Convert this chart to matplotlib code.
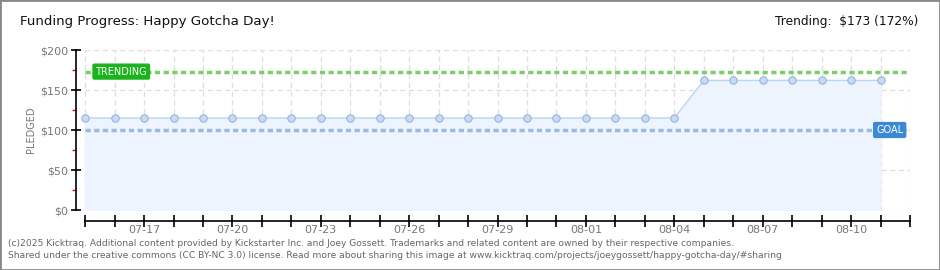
import numpy as np
import matplotlib.pyplot as plt
from matplotlib.patches import Rectangle
from matplotlib.ticker import MultipleLocator, FixedLocator

# daily pledged totals, 07-15 .. 08-11
dates = ['07-15', '07-16', '07-17', '07-18', '07-19', '07-20', '07-21', '07-22', '07-23', '07-24',
         '07-25', '07-26', '07-27', '07-28', '07-29', '07-30', '07-31', '08-01', '08-02', '08-03',
         '08-04', '08-05', '08-06', '08-07', '08-08', '08-09', '08-10', '08-11']
pledged = [115, 115, 115, 115, 115, 115, 115, 115, 115, 115,
           115, 115, 115, 115, 115, 115, 115, 115, 115, 115,
           115, 162, 162, 162, 162, 162, 162, 162]
tick_dates = dates + ['08-12']
goal = 100
trending = 173

W, H = 940, 270
fig = plt.figure(figsize=(W / 100, H / 100), dpi=100)
fig.patches.append(Rectangle((0, 0), 1, 1, transform=fig.transFigure, fill=False,
                             edgecolor='#888888', linewidth=2))

ax = fig.add_axes([76 / W, 60 / H, 834 / W, 160 / H])
x = np.arange(len(pledged))
ax.set_xlim(-0.31, len(tick_dates) - 1)
ax.set_ylim(0, 200)

# grid
for i in range(len(tick_dates)):
    ax.axvline(i, color='#dddddd', linestyle=(0, (4, 3)), linewidth=0.9, zorder=0)
for v in [0, 50, 100, 150, 200]:
    ax.axhline(v, color='#dddddd', linestyle=(0, (4, 3)), linewidth=0.9, zorder=0)

ax.fill_between(x, pledged, 0, color='#edf4fd', zorder=1)
ax.plot(x, pledged, color='#b9d5f2', linewidth=1, zorder=2)
ax.plot(x, pledged, 'o', markersize=5.3, markerfacecolor='#c6dcf6',
        markeredgecolor='#98b4d6', markeredgewidth=0.8, zorder=4, clip_on=False)

ax.axhline(trending, xmin=0.3 / 28.31, color='#7dcc6c', linestyle=(0, (1.5, 1)), linewidth=2.5, zorder=3)
ax.axhline(goal, xmin=0.3 / 28.31, color='#9cb9df', linestyle=(0, (1.5, 1)), linewidth=2.5, zorder=3)

ax.text(0.35, trending, 'TRENDING', fontsize=7, color='white', va='center', ha='left', zorder=6,
        bbox=dict(boxstyle='round,pad=0.25,rounding_size=0.15', facecolor='#1bb31b', edgecolor='#1bb31b'))
ax.text(26.85, goal, 'GOAL', fontsize=7, color='white', va='center', ha='left', zorder=6,
        bbox=dict(boxstyle='round,pad=0.25,rounding_size=0.15', facecolor='#3d88d5', edgecolor='#3d88d5'))

# axes
for s in ['top', 'right']:
    ax.spines[s].set_visible(False)
ax.spines['bottom'].set_position(('outward', 8))
ax.spines['bottom'].set_bounds(0, len(tick_dates) - 1)
ax.spines['left'].set_bounds(0, 200)
ax.spines['left'].set_linewidth(1.2)
ax.spines['bottom'].set_linewidth(1.2)

ax.xaxis.set_major_locator(FixedLocator(range(len(tick_dates))))
ax.set_xticklabels([d if (i - 2) % 3 == 0 and 2 <= i < 28 else '' for i, d in enumerate(tick_dates)])
ax.tick_params(axis='x', direction='inout', length=8, width=1.2, colors='black',
               labelcolor='#777777', labelsize=8, pad=-1)
ax.yaxis.set_minor_locator(MultipleLocator(25))
ax.set_yticks([0, 50, 100, 150, 200])
ax.set_yticklabels(['$0', '$50', '$100', '$150', '$200'])
ax.tick_params(axis='y', which='major', direction='inout', length=7, width=1.2,
               labelcolor='#777777', labelsize=8, pad=2)
ax.tick_params(axis='y', which='minor', direction='out', length=3, width=1, color='red')
ax.set_ylabel('PLEDGED', fontsize=7, color='#777777', labelpad=3)

fig.text(20 / W, 1 - 22 / H, 'Funding Progress: Happy Gotcha Day!', fontsize=9.6, color='#111111', va='center')
fig.text(918 / W, 1 - 22 / H, 'Trending:  $173 (172%)', fontsize=8.8, color='#111111', va='center', ha='right')

foot = '#666666'
fig.text(8 / W, 1 - 243 / H,
         '(c)2025 Kicktraq. Additional content provided by Kickstarter Inc. and Joey Gossett. '
         'Trademarks and related content are owned by their respective companies.',
         fontsize=6.6, color=foot, va='center')
fig.text(8 / W, 1 - 256 / H,
         'Shared under the creative commons (CC BY-NC 3.0) license. Read more about sharing this image at '
         'www.kicktraq.com/projects/joeygossett/happy-gotcha-day/#sharing',
         fontsize=6.6, color=foot, va='center')

fig.savefig('out.png', dpi=100)
